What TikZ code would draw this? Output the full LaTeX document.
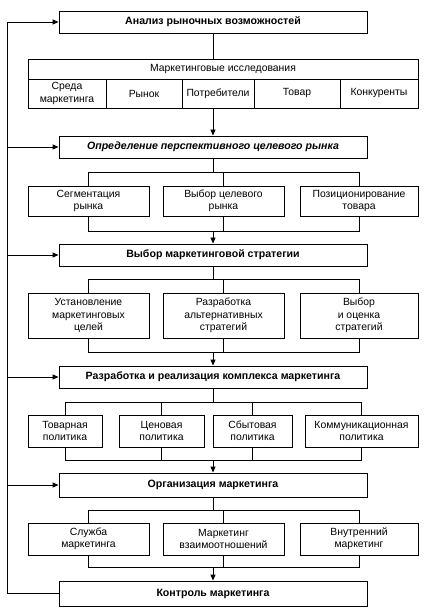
\documentclass[tikz,border=0pt]{standalone}
\usepackage{fontspec}
\setmainfont{Liberation Sans}
\usetikzlibrary{arrows.meta}
\begin{document}
\begin{tikzpicture}[x=1pt,y=-1pt,
  line width=0.9pt,
  every node/.style={font=\fontsize{10.4}{12.3}\selectfont},
  box/.style={draw, line width=0.9pt, inner sep=0pt, align=center},
  mainbox/.style={box, minimum width=308pt, font=\fontsize{10.6}{12.5}\selectfont\bfseries},
  arr/.style={-{Triangle[length=6pt,width=5pt]}}]
\useasboundingbox (0,0) rectangle (427,609);
% main boxes
\node[mainbox, minimum height=22pt] (m1) at (213,22) {Анализ рыночных возможностей};
\node[mainbox, minimum height=22pt, font=\fontsize{10.6}{12.5}\selectfont\bfseries\itshape] (m2) at (213,147) {Определение перспективного целевого рынка};
\node[mainbox, minimum height=22pt] (m3) at (213,255) {Выбор маркетинговой стратегии};
\node[mainbox, minimum height=22pt] (m4) at (213,377) {Разработка и реализация комплекса маркетинга};
\node[mainbox, minimum height=24pt] (m5) at (213,485) {Организация маркетинга};
\node[mainbox, minimum height=25pt] (m6) at (213,593.5) {Контроль маркетинга};
% research
\node[box, minimum width=390pt, minimum height=20pt] (hdr) at (223,69) {Маркетинговые исследования};
\node[box, minimum width=78pt, minimum height=29pt] (c1) at (67,93.5) {Среда\\маркетинга};
\node[box, minimum width=76pt, minimum height=29pt] (c2) at (144,93.5) {Рынок};
\node[box, minimum width=72pt, minimum height=29pt] (c3) at (218,93.5) {Потребители};
\node[box, minimum width=86pt, minimum height=29pt] (c4) at (297,93.5) {Товар};
\node[box, minimum width=78pt, minimum height=29pt] (c5) at (379,93.5) {Конкуренты};
% row 2
\node[box, minimum width=121pt, minimum height=30pt] (r2a) at (88.5,201) {Сегментация\\рынка};
\node[box, minimum width=121pt, minimum height=30pt] (r2b) at (223.5,201) {Выбор целевого\\рынка};
\node[box, minimum width=118pt, minimum height=30pt] (r2c) at (359,201) {Позиционирование\\товара};
% row 3
\node[box, minimum width=121pt, minimum height=45pt] (r3a) at (88.5,315.5) {Установление\\маркетинговых\\целей};
\node[box, minimum width=121pt, minimum height=45pt] (r3b) at (223.5,315.5) {Разработка\\альтернативных\\стратегий};
\node[box, minimum width=118pt, minimum height=45pt] (r3c) at (359,315.5) {Выбор\\и оценка\\стратегий};
% row 4
\node[box, minimum width=74pt, minimum height=32pt] (r4a) at (65,431) {Товарная\\политика};
\node[box, minimum width=85pt, minimum height=32pt] (r4b) at (161.5,431) {Ценовая\\политика};
\node[box, minimum width=79pt, minimum height=32pt] (r4c) at (252.5,431) {Сбытовая\\политика};
\node[box, minimum width=113pt, minimum height=32pt] (r4d) at (361.5,431) {Коммуникационная\\политика};
% row 5
\node[box, minimum width=121pt, minimum height=32pt] (r5a) at (88.5,539) {Служба\\маркетинга};
\node[box, minimum width=121pt, minimum height=32pt] (r5b) at (223.5,539) {Маркетинг\\взаимоотношений};
\node[box, minimum width=118pt, minimum height=32pt] (r5c) at (359,539) {Внутренний\\маркетинг};
% branch levels
\coordinate (t2) at (0,172); \coordinate (u2) at (0,231);
\coordinate (t3) at (0,279); \coordinate (u3) at (0,352);
\coordinate (t4) at (0,402); \coordinate (u4) at (0,460);
\coordinate (t5) at (0,510); \coordinate (u5) at (0,567);
\coordinate (fb) at (7,0);
% connectors
\draw (m1.south) -- (m1.south |- hdr.north);
\draw[arr] (m2.north |- c3.south) -- (m2.north);
% row 2
\draw (m2.south) -- (m2.south |- t2);
\draw (r2a.north) |- (t2 -| r2c.north) -- (r2c.north);
\draw (r2b.north) -- (r2b.north |- t2);
\draw (r2a.south) |- (u2 -| r2c.south) -- (r2c.south);
\draw (r2b.south) -- (r2b.south |- u2);
\draw[arr] (m3.north |- u2) -- (m3.north);
% row 3
\draw (m3.south) -- (m3.south |- t3);
\draw (r3a.north) |- (t3 -| r3c.north) -- (r3c.north);
\draw (r3b.north) -- (r3b.north |- t3);
\draw (r3a.south) |- (u3 -| r3c.south) -- (r3c.south);
\draw (r3b.south) -- (r3b.south |- u3);
\draw[arr] (m4.north |- u3) -- (m4.north);
% row 4
\draw (m4.south) -- (m4.south |- t4);
\draw (r4a.north) |- (t4 -| r4d.north) -- (r4d.north);
\draw (r4b.north) -- (r4b.north |- t4);
\draw (r4c.north) -- (r4c.north |- t4);
\draw (r4a.south) |- (u4 -| r4d.south) -- (r4d.south);
\draw (r4b.south) -- (r4b.south |- u4);
\draw (r4c.south) -- (r4c.south |- u4);
\draw[arr] (m5.north |- u4) -- (m5.north);
% row 5
\draw (m5.south) -- (m5.south |- t5);
\draw (r5a.north) |- (t5 -| r5c.north) -- (r5c.north);
\draw (r5b.north) -- (r5b.north |- t5);
\draw (r5a.south) |- (u5 -| r5c.south) -- (r5c.south);
\draw (r5b.south) -- (r5b.south |- u5);
\draw[arr] (m6.north |- u5) -- (m6.north);
% feedback
\draw[arr] (m6.west) -- (m6.west -| fb) -- (m1.west -| fb) -- (m1.west);
\draw[arr] (m2.west -| fb) -- (m2.west);
\draw[arr] (m3.west -| fb) -- (m3.west);
\draw[arr] (m4.west -| fb) -- (m4.west);
\draw[arr] (m5.west -| fb) -- (m5.west);
\end{tikzpicture}
\end{document}
